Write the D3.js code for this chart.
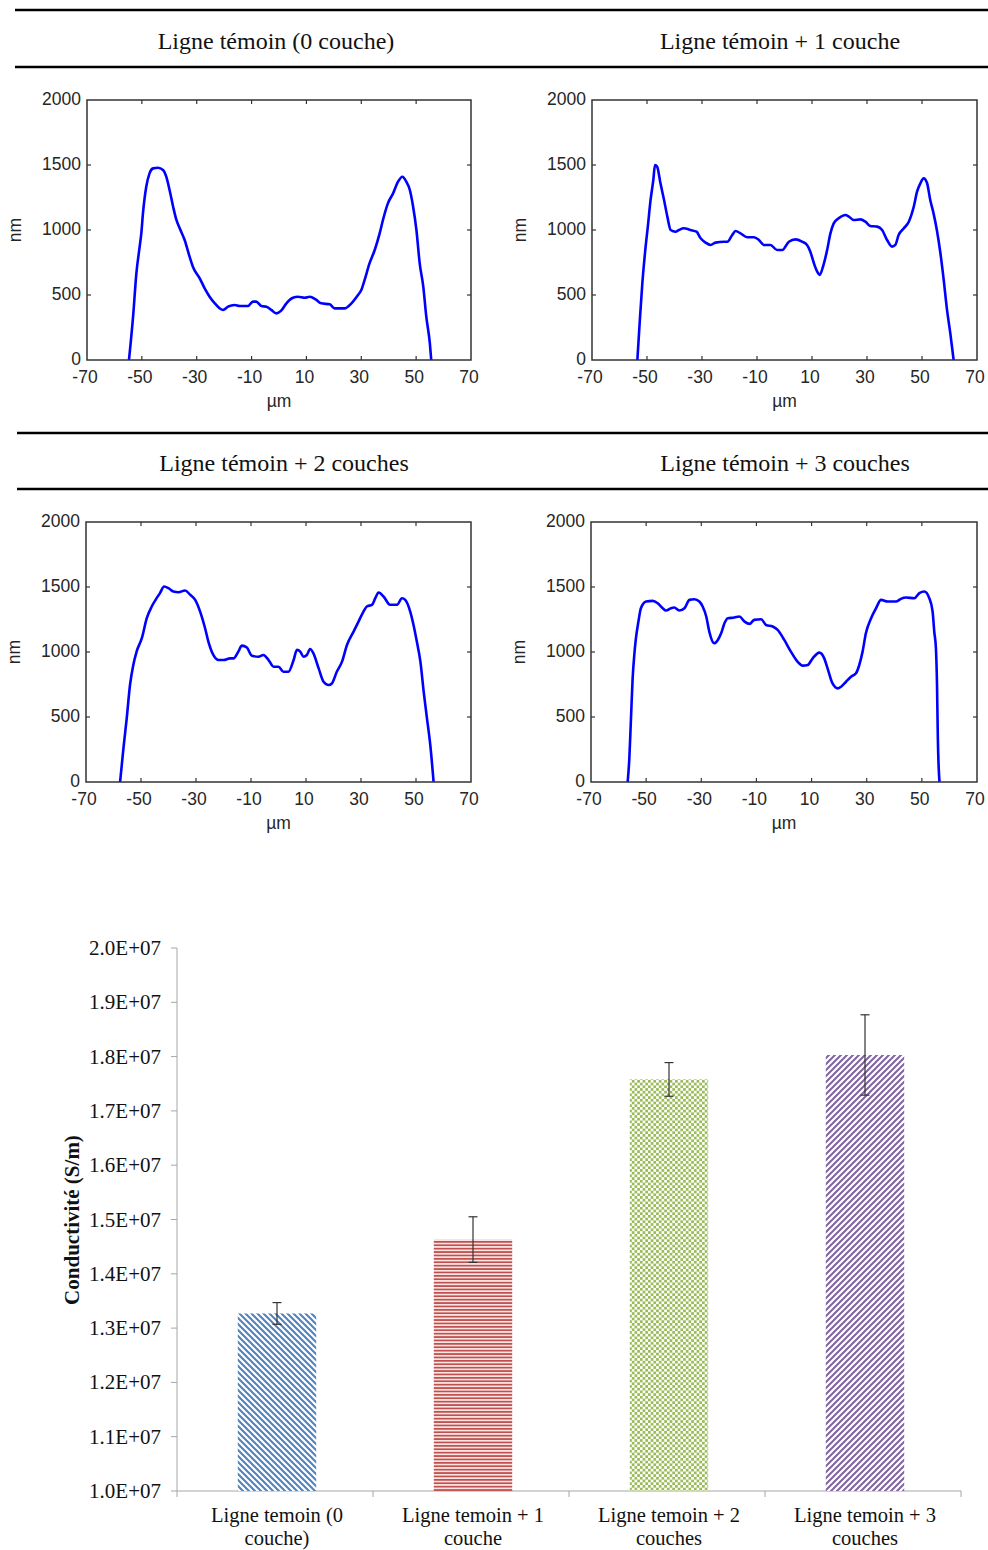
<!DOCTYPE html>
<html><head><meta charset="utf-8">
<script src="https://cdn.jsdelivr.net/npm/d3@7"></script>
<style>body{margin:0;background:#fff}svg{display:block}</style>
</head><body>
<script>
// ---------- Profile data (µm, nm) ----------
const p0x=[-54.7,-53.2,-52.0,-50.8,-50.2,-49.6,-48.4,-47.2,-45.9,-44.1,-42.3,-41.1,-39.9,-38.6,-37.4,-36.2,-34.4,-32.6,-31.4,-28.9,-27.1,-25.3,-23.4,-21.6,-20.4,-18.6,-16.2,-14.3,-11.3,-9.5,-8.3,-6.4,-4.6,-2.8,-1.0,0.8,2.7,5.1,6.9,9.4,11.2,13.6,15.4,18.5,20.3,23.9,26.4,28.8,30.0,31.2,33.0,34.9,36.7,37.9,39.7,41.6,43.4,45.0,46.4,47.7,48.9,50.1,51.3,52.6,53.7,55.0,55.5];
const p0y=[0,333,667,872,974,1128,1333,1436,1474,1479,1462,1410,1308,1179,1077,1013,923,795,718,628,551,487,436,397,385,410,423,415,415,449,449,415,410,385,359,380,436,479,487,479,487,462,436,428,397,397,436,500,538,615,743,846,974,1077,1205,1282,1372,1410,1372,1308,1179,1000,743,564,333,128,0];
const p1x=[-53.5,-52.6,-51.7,-50.5,-49.7,-48.7,-47.7,-47.1,-46.3,-45.1,-43.8,-42.6,-41.4,-39.6,-38.4,-36.6,-34.2,-32.0,-30.5,-28.7,-26.9,-25.1,-22.0,-20.8,-19.0,-17.8,-16.0,-13.6,-11.1,-9.3,-7.5,-5.1,-2.7,-0.8,1.6,4.0,6.4,8.2,9.4,10.7,11.9,12.8,14.0,15.5,16.7,17.9,19.7,22.2,23.4,25.2,27.6,29.4,31.2,33.7,35.5,37.3,39.1,40.3,41.5,43.4,45.2,47.0,48.2,49.4,50.6,51.8,53.0,54.2,55.4,56.7,57.9,59.1,60.3,61.5];
const p1y=[0,308,590,872,1026,1231,1385,1500,1487,1359,1231,1103,1000,987,1000,1013,1000,987,936,903,885,903,910,910,962,992,974,944,944,923,885,885,846,846,910,928,910,885,833,744,679,654,718,846,974,1051,1090,1115,1103,1077,1082,1064,1031,1026,1000,923,872,885,962,1013,1064,1179,1295,1359,1397,1364,1231,1128,1000,821,615,385,205,0];
const p2x=[-57.6,-56.4,-55.2,-54.0,-52.8,-51.6,-49.7,-47.9,-46.1,-44.3,-43.1,-41.6,-40.0,-38.2,-36.4,-34.0,-32.1,-30.3,-28.5,-26.7,-25.5,-23.7,-21.8,-20.0,-17.6,-16.4,-14.6,-13.3,-11.5,-9.7,-7.3,-5.5,-3.6,-1.8,0.0,1.8,3.6,5.5,6.7,7.9,9.1,10.3,11.5,12.7,14.6,16.4,18.2,19.4,21.2,23.1,24.9,27.3,29.1,30.9,32.1,34.0,35.2,36.4,38.2,40.6,43.1,44.9,46.1,47.9,49.1,50.3,51.6,52.8,54.0,55.2,56.4];
const p2y=[0,257,488,746,900,1003,1106,1260,1350,1414,1453,1504,1491,1465,1460,1473,1440,1401,1311,1183,1080,977,938,938,951,951,1003,1049,1034,972,964,977,938,887,887,848,848,938,1016,1003,964,977,1023,990,874,771,746,758,848,926,1054,1157,1234,1311,1350,1363,1414,1458,1427,1363,1363,1414,1401,1311,1208,1080,926,694,488,283,0];
const p3x=[-56.7,-56.1,-55.5,-54.9,-54.3,-53.7,-52.8,-51.9,-50.0,-47.6,-45.8,-44.0,-42.8,-41.0,-39.8,-38.0,-36.1,-34.3,-32.5,-30.7,-29.5,-28.2,-27.1,-25.3,-24.0,-22.8,-21.6,-20.4,-18.0,-16.2,-14.3,-12.5,-10.8,-8.3,-6.5,-4.1,-2.3,0.1,2.5,4.9,6.8,8.6,10.4,12.8,14.6,15.8,17.6,19.5,20.7,22.5,24.3,26.1,27.3,28.5,29.7,31.6,33.4,35.2,37.6,40.6,42.4,44.2,47.3,49.1,50.9,52.7,53.9,54.5,55.1,55.5,55.8,56.4];
const p3y=[0,180,488,797,977,1106,1234,1337,1388,1393,1375,1337,1319,1337,1342,1319,1337,1401,1406,1388,1350,1273,1157,1067,1093,1144,1221,1260,1265,1273,1234,1216,1247,1252,1208,1196,1170,1093,1003,926,895,900,951,995,951,874,758,720,733,771,810,836,900,1003,1144,1260,1337,1401,1388,1388,1409,1419,1414,1453,1465,1414,1311,1157,1029,746,334,0];
const profileTitles=["Ligne témoin (0 couche)","Ligne témoin + 1 couche","Ligne témoin + 2 couches","Ligne témoin + 3 couches"];
const profXTicks=[-70,-50,-30,-10,10,30,50,70];
const profYTicks=[0,500,1000,1500,2000];

// ---------- Bar chart data ----------
const barCats=[["Ligne temoin (0","couche)"],["Ligne temoin + 1","couche"],["Ligne temoin + 2","couches"],["Ligne temoin + 3","couches"]];
const barValues=[1.327e7,1.463e7,1.758e7,1.803e7];
const barErrors=[0.20e6,0.42e6,0.31e6,0.74e6];
const barColors=["#4f81bd","#c0504d","#9bbb59","#8064a2"];
const barYTicks=[1.0e7,1.1e7,1.2e7,1.3e7,1.4e7,1.5e7,1.6e7,1.7e7,1.8e7,1.9e7,2.0e7];

const W=988,H=1550;
const svg=d3.select("body").append("svg").attr("width",W).attr("height",H);
const serif="'Liberation Serif','Times New Roman',serif";
const sans="'Liberation Sans',Arial,sans-serif";

// Header rules & titles
function rule(x1,x2,y){svg.append("line").attr("x1",x1).attr("x2",x2).attr("y1",y).attr("y2",y).attr("stroke","#000").attr("stroke-width",2.5);}
rule(15,988,10);rule(15,988,67);rule(17,988,433);rule(17,988,489);
const titlePos=[[276,41],[780,41],[284,463],[785,463]];
profileTitles.forEach((t,i)=>{
  svg.append("text").attr("x",titlePos[i][0]).attr("y",titlePos[i][1]).attr("text-anchor","middle")
   .attr("dominant-baseline","central").attr("font-family",serif).attr("font-size",24).attr("fill","#111").text(t);
});

const panels=[
  {x:p0x,y:p0y,l:87,r:471,t:100,b:360},
  {x:p1x,y:p1y,l:592,r:977,t:100,b:360},
  {x:p2x,y:p2y,l:86,r:471,t:522,b:782},
  {x:p3x,y:p3y,l:591,r:977,t:522,b:782}
];
panels.forEach(p=>{
  const xs=d3.scaleLinear().domain([-70,70]).range([p.l,p.r]);
  const ys=d3.scaleLinear().domain([0,2000]).range([p.b,p.t]);
  const g=svg.append("g");
  const tickCol="#333";
  const tl=4;
  profXTicks.slice(1,-1).forEach(v=>{
    g.append("line").attr("x1",xs(v)).attr("x2",xs(v)).attr("y1",p.b).attr("y2",p.b-tl).attr("stroke",tickCol).attr("stroke-width",1.2);
    g.append("line").attr("x1",xs(v)).attr("x2",xs(v)).attr("y1",p.t).attr("y2",p.t+tl).attr("stroke",tickCol).attr("stroke-width",1.2);
  });
  profYTicks.slice(1,-1).forEach(v=>{
    g.append("line").attr("x1",p.l).attr("x2",p.l+tl).attr("y1",ys(v)).attr("y2",ys(v)).attr("stroke",tickCol).attr("stroke-width",1.2);
    g.append("line").attr("x1",p.r).attr("x2",p.r-tl).attr("y1",ys(v)).attr("y2",ys(v)).attr("stroke",tickCol).attr("stroke-width",1.2);
  });
  profXTicks.forEach(v=>{
    g.append("text").attr("x",xs(v)-2).attr("y",p.b+23).attr("text-anchor","middle").attr("font-family",sans).attr("font-size",17.5).attr("fill","#262626").text(v);
  });
  profYTicks.forEach(v=>{
    g.append("text").attr("x",p.l-6).attr("y",ys(v)+5).attr("text-anchor","end").attr("font-family",sans).attr("font-size",17.5).attr("fill","#262626").text(v);
  });
  g.append("text").attr("x",(p.l+p.r)/2).attr("y",p.b+47).attr("text-anchor","middle").attr("font-family",sans).attr("font-size",17.5).attr("fill","#262626").text("µm");
  g.append("text").attr("transform",`translate(${p.l-66},${(p.t+p.b)/2}) rotate(-90)`).attr("text-anchor","middle").attr("font-family",sans).attr("font-size",17.5).attr("fill","#262626").text("nm");
  const data=p.x.map((v,i)=>[v,p.y[i]]);
  g.append("path").datum(data).attr("fill","none").attr("stroke","#0000ff").attr("stroke-width",2.6).attr("stroke-linejoin","round")
   .attr("d",d3.line().curve(d3.curveMonotoneX).x(d=>xs(d[0])).y(d=>ys(d[1])));
  g.append("rect").attr("x",p.l).attr("y",p.t).attr("width",p.r-p.l).attr("height",p.b-p.t).attr("fill","none").attr("stroke","#333").attr("stroke-width",1.5);
});

// ---------- Bar chart ----------
const defs=svg.append("defs");
let pt=defs.append("pattern").attr("id","pat0").attr("patternUnits","userSpaceOnUse").attr("width",6).attr("height",6);
pt.append("rect").attr("width",6).attr("height",6).attr("fill","#fff");
pt.append("path").attr("d","M-1,-1 L7,7 M-1,5 L1,7 M5,-1 L7,1").attr("stroke",barColors[0]).attr("stroke-width",2);
pt=defs.append("pattern").attr("id","pat1").attr("patternUnits","userSpaceOnUse").attr("width",4).attr("height",3.4);
pt.append("rect").attr("width",4).attr("height",3.4).attr("fill","#f8e4e3");
pt.append("rect").attr("y",0).attr("width",4).attr("height",1.7).attr("fill",barColors[1]);
pt=defs.append("pattern").attr("id","pat2").attr("patternUnits","userSpaceOnUse").attr("width",5.4).attr("height",5.4);
pt.append("rect").attr("width",5.4).attr("height",5.4).attr("fill","#fff");
pt.append("rect").attr("width",2.7).attr("height",2.7).attr("fill",barColors[2]);
pt.append("rect").attr("x",2.7).attr("y",2.7).attr("width",2.7).attr("height",2.7).attr("fill",barColors[2]);
pt=defs.append("pattern").attr("id","pat3").attr("patternUnits","userSpaceOnUse").attr("width",6).attr("height",6);
pt.append("rect").attr("width",6).attr("height",6).attr("fill","#fff");
pt.append("path").attr("d","M-1,7 L7,-1 M-1,1 L1,-1 M5,7 L7,5").attr("stroke",barColors[3]).attr("stroke-width",2);

const bx=d3.scaleBand().domain(d3.range(barValues.length)).range([179,963]).paddingInner(0.6).paddingOuter(0.3);
const by=d3.scaleLinear().domain([1.0e7,2.0e7]).range([1491,948]);
const bg=svg.append("g");
const axCol="#a6a6a6";
bg.append("line").attr("x1",177).attr("x2",177).attr("y1",by(2.0e7)).attr("y2",by(1.0e7)).attr("stroke",axCol).attr("stroke-width",1);
bg.append("line").attr("x1",177).attr("x2",961).attr("y1",by(1.0e7)).attr("y2",by(1.0e7)).attr("stroke",axCol).attr("stroke-width",1);
barYTicks.forEach(v=>{
  bg.append("line").attr("x1",171).attr("x2",177).attr("y1",by(v)).attr("y2",by(v)).attr("stroke",axCol);
  bg.append("text").attr("x",161).attr("y",by(v)+7).attr("text-anchor","end").attr("font-family",serif).attr("font-size",21).attr("fill","#111")
    .text((v/1e7).toFixed(1)+"E+07");
});
const step=(961-177)/barValues.length;
d3.range(barValues.length+1).forEach(i=>{
  const x=177+i*step;
  bg.append("line").attr("x1",x).attr("x2",x).attr("y1",by(1.0e7)).attr("y2",by(1.0e7)+6).attr("stroke",axCol);
});
barValues.forEach((v,i)=>{
  bg.append("rect").attr("x",bx(i)).attr("y",by(v)).attr("width",bx.bandwidth()).attr("height",by(1.0e7)-by(v)).attr("fill",`url(#pat${i})`);
});
barValues.forEach((v,i)=>{
  const cx=bx(i)+bx.bandwidth()/2;
  const y1=by(v+barErrors[i]),y2=by(v-barErrors[i]);
  bg.append("line").attr("x1",cx).attr("x2",cx).attr("y1",y1).attr("y2",y2).attr("stroke","#333").attr("stroke-width",1.2);
  [y1,y2].forEach(y=>bg.append("line").attr("x1",cx-4.5).attr("x2",cx+4.5).attr("y1",y).attr("y2",y).attr("stroke","#333").attr("stroke-width",1.2));
});
barCats.forEach((c,i)=>{
  const cx=bx(i)+bx.bandwidth()/2;
  c.forEach((line,j)=>{
    bg.append("text").attr("x",cx).attr("y",1522+j*22.5).attr("text-anchor","middle").attr("font-family",serif).attr("font-size",20.5).attr("fill","#111").text(line);
  });
});
bg.append("text").attr("transform",`translate(79,1220) rotate(-90)`).attr("text-anchor","middle").attr("font-family",serif).attr("font-size",21).attr("font-weight","bold").attr("fill","#111").text("Conductivité (S/m)");
</script>
</body></html>
